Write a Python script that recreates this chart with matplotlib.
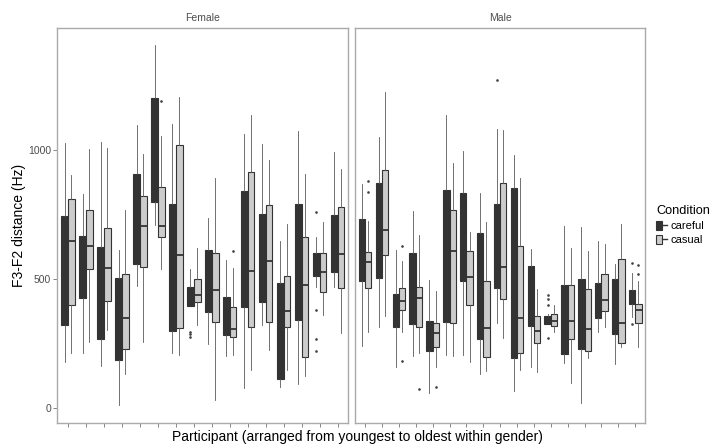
import matplotlib
matplotlib.use("Agg")
import matplotlib.pyplot as plt
from matplotlib.patches import Patch
from matplotlib.lines import Line2D
from matplotlib.legend_handler import HandlerTuple

plt.rcParams["font.family"] = ["Liberation Sans", "DejaVu Sans"]

# (whisker low, q1, median, q3, whisker high) per participant
female_careful = [
    (181, 323, 540, 745, 1030), (213, 429, 550, 669, 831), (164, 269, 450, 626, 1033),
    (13, 187, 340, 504, 614), (474, 559, 730, 907, 1098), (710, 801, 1000, 1201, 1408),
    (216, 300, 550, 792, 1101), (397, 397, 430, 469, 541), (249, 372, 490, 612, 736),
    (203, 285, 360, 433, 575), (77, 391, 600, 843, 1063), (323, 411, 580, 752, 1023),
    (81, 112, 300, 484, 650), (94, 342, 560, 791, 1076), (469, 513, 560, 603, 663),
    (471, 530, 640, 749, 993),
]
female_casual = [
    (216, 400, 650, 810, 904), (256, 539, 629, 767, 1005), (303, 417, 543, 698, 1009),
    (133, 229, 349, 519, 769), (258, 546, 706, 824, 986), (541, 663, 706, 859, 1055),
    (207, 310, 593, 1019, 1208), (323, 413, 439, 501, 620), (32, 333, 457, 603, 891),
    (207, 275, 306, 394, 543), (148, 316, 533, 915, 1137), (226, 333, 571, 787, 962),
    (148, 314, 377, 513, 713), (125, 198, 478, 665, 908), (362, 450, 530, 601, 723),
    (293, 465, 597, 779, 926),
]
female_careful_out = {8: [297, 287, 275], 15: [762, 381, 267, 223]}
female_casual_out = {6: [1192], 10: [610]}

male_careful = [
    (243, 493, 610, 732, 869), (314, 504, 690, 873, 1053), (159, 316, 380, 442, 614),
    (203, 327, 460, 603, 765), (61, 222, 280, 340, 497), (208, 333, 590, 846, 1136),
    (207, 493, 660, 836, 999), (132, 269, 470, 679, 836), (329, 467, 630, 791, 1083),
    (67, 196, 520, 854, 982), (161, 320, 430, 550, 616), (327, 327, 340, 358, 364),
    (174, 210, 340, 477, 706), (19, 229, 360, 500, 704), (297, 349, 420, 484, 650),
    (172, 288, 390, 500, 558), (354, 404, 430, 459, 523),
]
male_casual = [
    (297, 465, 565, 605, 727), (358, 594, 691, 922, 1226), (297, 381, 416, 465, 571),
    (216, 314, 426, 471, 672), (159, 236, 291, 329, 455), (203, 329, 610, 769, 950),
    (178, 400, 508, 610, 685), (145, 198, 312, 493, 723), (271, 422, 549, 872, 1079),
    (148, 216, 349, 628, 891), (142, 252, 301, 358, 461), (295, 320, 340, 364, 400),
    (97, 269, 337, 478, 622), (194, 222, 307, 462, 611), (314, 377, 420, 521, 636),
    (239, 252, 329, 578, 714), (239, 332, 381, 404, 495),
]
male_careful_out = {9: [1273], 12: [439, 422, 399, 271], 17: [562, 326]}
male_casual_out = {1: [881, 840], 3: [629, 183], 4: [74], 5: [84], 17: [554, 521]}

dark = "#333333"
light = "#CCCCCC"
W, H = 713, 447


def make_stats(rows, outliers):
    stats = []
    for i, (lo, q1, med, q3, hi) in enumerate(rows, start=1):
        stats.append(dict(whislo=lo, q1=q1, med=med, q3=q3, whishi=hi,
                          fliers=outliers.get(i, [])))
    return stats


def draw_panel(ax, careful, casual, c_out, s_out, title):
    n = len(careful)
    pos = list(range(1, n + 1))
    for rows, outs, fill, shift in [(careful, c_out, dark, -0.1875),
                                     (casual, s_out, light, 0.1875)]:
        ax.bxp(make_stats(rows, outs), positions=[p + shift for p in pos],
               widths=0.375, patch_artist=True, showcaps=False,
               boxprops=dict(facecolor=fill, edgecolor=dark, linewidth=0.8),
               whiskerprops=dict(color="#5A5A5A", linewidth=0.6),
               medianprops=dict(color=dark, linewidth=1.3),
               flierprops=dict(marker="o", markersize=0.9, markerfacecolor="#444444",
                               markeredgecolor="#444444", linestyle="none"))
    ax.set_xlim(0.4, n + 0.6)
    ax.set_ylim(-56, 1475)
    ax.set_xticks(pos)
    ax.set_xticklabels([])
    ax.set_yticks([0, 500, 1000])
    ax.tick_params(axis="both", length=3, width=0.5, color="#555555",
                   labelsize=7.5, labelcolor="#4D4D4D", pad=1.5)
    for s in ax.spines.values():
        s.set_color("#AAAAAA")
        s.set_linewidth(1.0)
    ax.text(0.5, 1 + 9.5 / 395, title, transform=ax.transAxes, ha="center",
            va="center", fontsize=7.5, color="#4D4D4D")


fig = plt.figure(figsize=(W / 100, H / 100), dpi=100)
bottom = (H - 422.7) / H
height = (422.7 - 27.7) / H
ax_f = fig.add_axes([57.3 / W, bottom, 291 / W, height])
ax_m = fig.add_axes([355 / W, bottom, 290.3 / W, height])

draw_panel(ax_f, female_careful, female_casual, female_careful_out, female_casual_out, "Female")
draw_panel(ax_m, male_careful, male_casual, male_careful_out, male_casual_out, "Male")
ax_m.set_yticklabels([])
ax_m.tick_params(axis="y", length=0)

fig.text(357 / W, (H - 437) / H, "Participant (arranged from youngest to oldest within gender)",
         ha="center", va="center", fontsize=10)
fig.text(19 / W, (H - 225) / H, "F3-F2 distance (Hz)", rotation=90,
         ha="center", va="center", fontsize=10)

handles = [(Patch(facecolor=dark, edgecolor=dark, linewidth=0.8),
            Line2D([], [], color=dark, linewidth=1)),
           (Patch(facecolor=light, edgecolor=dark, linewidth=0.8),
            Line2D([], [], color=dark, linewidth=1))]
leg = fig.legend(handles, ["careful", "casual"], title="Condition",
                 handler_map={tuple: HandlerTuple(ndivide=None, pad=0)},
                 loc="upper left", bbox_to_anchor=(654 / W, (H - 203) / H),
                 frameon=False, fontsize=8, title_fontsize=9.2,
                 handlelength=0.95, handleheight=0.8, handletextpad=0.35,
                 labelspacing=0.35, borderaxespad=0, borderpad=0.2)
leg._legend_box.align = "left"

fig.savefig("out.png", dpi=100)
